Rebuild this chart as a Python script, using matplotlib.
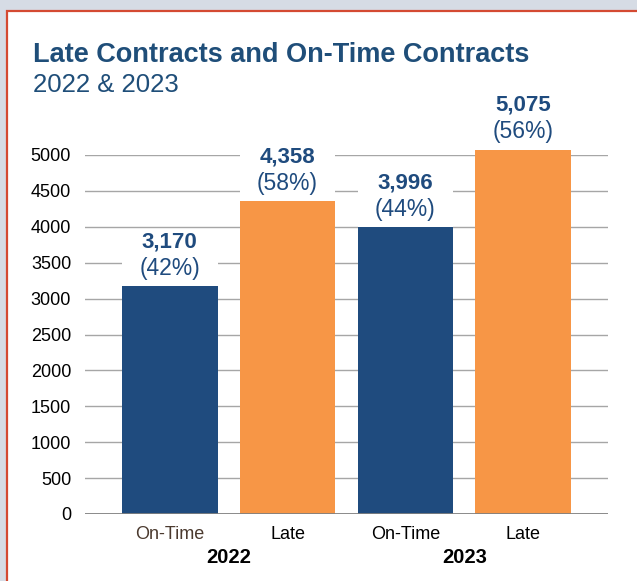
import matplotlib.pyplot as plt
from matplotlib.patches import Rectangle

plt.rcParams['font.family'] = ['Liberation Sans', 'DejaVu Sans']

years = ['2022', '2023']
categories = ['On-Time', 'Late', 'On-Time', 'Late']
counts = [3170, 4358, 3996, 5075]
shares = [42, 58, 44, 56]
yticks = [0, 500, 1000, 1500, 2000, 2500, 3000, 3500, 4000, 4500, 5000]

navy = '#1f4b7e'
orange = '#f79646'
colors = [navy, orange, navy, orange]

fig = plt.figure(figsize=(6.37, 5.81), dpi=100, facecolor='#d6dce5')
# white panel with red left/top border
fig.patches.append(Rectangle((7 / 637, -0.05), 1.2, (581 - 11) / 581 + 0.05,
                             transform=fig.transFigure, facecolor='white',
                             edgecolor='#d44a32', linewidth=1.6, zorder=-1))

ax = fig.add_axes([85 / 637, (581 - 514) / 581, (608 - 85) / 637, (514 - 155) / 581])
ax.set_facecolor('none')

x = list(range(len(counts)))
width = 0.81

for yv in yticks[1:]:
    ax.axhline(yv, color='#a6a6a6', linewidth=1, zorder=0)
ax.axhline(0, color='#808080', linewidth=2, zorder=4)

# white boxes behind labels hide the grid lines
ax.bar(x, [720] * len(x), bottom=counts, width=width, color='white', zorder=1, clip_on=False)
ax.bar(x, counts, width=width, color=colors, zorder=2, clip_on=False)

for xi, c, s in zip(x, counts, shares):
    ax.annotate(f'{c:,}', (xi, c), xytext=(0, 32), textcoords='offset points',
                ha='center', va='center', fontsize=16, fontweight='bold',
                color=navy, zorder=5, annotation_clip=False)
    ax.annotate(f'({s}%)', (xi, c), xytext=(0, 13), textcoords='offset points',
                ha='center', va='center', fontsize=16.5, color=navy,
                zorder=5, annotation_clip=False)

ax.set_xlim(-0.72, 3.72)
ax.set_ylim(0, 5000)
ax.set_yticks(yticks)
ax.set_yticklabels([str(v) for v in yticks], fontsize=13)
ax.set_xticks(x)
ax.set_xticklabels(categories, fontsize=13)
ax.get_xticklabels()[0].set_color('#4b3a2f')
ax.tick_params(axis='y', length=0, pad=10)
ax.tick_params(axis='x', length=0, pad=8.5)
for sp in ax.spines.values():
    sp.set_visible(False)

for i, yr in enumerate(years):
    ax.annotate(yr, (2 * i + 0.5, 0), xycoords=('data', 'axes fraction'),
                xytext=(0, -31.5), textcoords='offset points', ha='center', va='center',
                fontsize=14.5, fontweight='bold', color='black', annotation_clip=False)

fig.text(33 / 637, 1 - 55 / 581, 'Late Contracts and On-Time Contracts', fontsize=19.5,
         fontweight='bold', color='#1f4e79', va='center', ha='left')
fig.text(33 / 637, 1 - 85 / 581, '2022 & 2023', fontsize=18.5, color='#1f4e79',
         va='center', ha='left')

fig.savefig('out.png', dpi=100, facecolor=fig.get_facecolor())
